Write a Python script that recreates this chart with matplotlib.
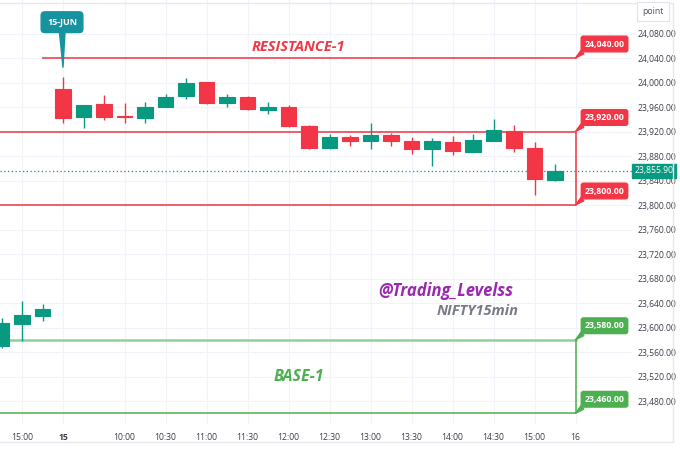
import numpy as np
import matplotlib
matplotlib.use("Agg")
import matplotlib.pyplot as plt
from matplotlib.patches import Rectangle

# 15-min NIFTY candles: last 3 bars of 14-Jun, then all of 15-Jun
times = ["14:45", "15:00", "15:15",
         "09:15", "09:30", "09:45", "10:00", "10:15", "10:30", "10:45",
         "11:00", "11:15", "11:30", "11:45", "12:00", "12:15", "12:30",
         "12:45", "13:00", "13:15", "13:30", "13:45", "14:00", "14:15",
         "14:30", "14:45", "15:00", "15:15"]
opens = [23570.3, 23605.7, 23618.8,
         23988.9, 23944.2, 23964.4, 23944.5, 23942.5, 23960.5, 23978.0,
         24000.3, 23966.0, 23976.8, 23955.1, 23960.5, 23929.5, 23892.6,
         23911.5, 23905.0, 23914.3, 23905.0, 23891.4, 23903.4, 23887.0,
         23905.0, 23921.3, 23892.6, 23840.8]
highs = [23616.0, 23643.8, 23638.4,
         24009.5, 23964.0, 23979.6, 23967.0, 23967.7, 23981.2, 24006.8,
         24001.0, 23981.2, 23978.0, 23968.7, 23963.0, 23931.0, 23916.0,
         23914.0, 23933.4, 23917.0, 23911.5, 23909.0, 23912.7, 23915.4,
         23940.4, 23930.6, 23902.4, 23867.0]
lows = [23567.0, 23578.4, 23611.0,
        23933.4, 23926.2, 23938.8, 23933.4, 23934.4, 23960.0, 23972.6,
        23965.0, 23960.5, 23955.0, 23948.6, 23928.0, 23891.0, 23891.5,
        23896.3, 23891.0, 23896.3, 23882.8, 23863.7, 23881.6, 23886.0,
        23904.0, 23887.0, 23816.3, 23839.5]
closes = [23606.8, 23620.4, 23629.7,
          23942.5, 23963.3, 23944.2, 23943.8, 23960.5, 23976.8, 23999.7,
          23966.0, 23976.8, 23956.2, 23960.5, 23929.0, 23892.6, 23910.5,
          23905.0, 23914.3, 23905.0, 23891.4, 23905.0, 23887.6, 23906.1,
          23922.4, 23893.6, 23842.0, 23855.9]
prev_day_bars = 3

resistance = [24040, 23920, 23800]
support = [23580, 23460]
last_price = 23855.90

tick_pos = [-2, 0, 3, 5, 7, 9, 11, 13, 15, 17, 19, 21, 23, 25]
tick_lbl = ["15:00", "15", "10:00", "10:30", "11:00", "11:30", "12:00",
            "12:30", "13:00", "13:30", "14:00", "14:30", "15:00", "16"]
price_ticks = np.arange(23480, 24081, 40)

UP = "#089981"
DN = "#F23645"
RED_LN = "#F0525F"
GRN = "#4CAF50"
TEAL = "#17939F"

plt.rcParams['font.family'] = ['Open Sans', 'DejaVu Sans']

fig = plt.figure(figsize=(6.8, 4.5), dpi=100)
W, H = 680, 450
ax = fig.add_axes([0, (H - 425) / H, 632 / W, 425 / H])

x = np.arange(len(times)) - prev_day_bars
o, h, l, c = map(np.array, (opens, highs, lows, closes))
col = np.where(c >= o, UP, DN)

ax.vlines(x, l, h, colors=col, lw=1, zorder=3)
ax.bar(x, np.abs(c - o), bottom=np.minimum(o, c), width=0.74,
       color=col, edgecolor=col, lw=0.8, zorder=4)

left = -3.5
right = 25
# resistance zone
ax.plot([-1, right], [resistance[0]] * 2, color=RED_LN, lw=1.3, zorder=2)
ax.plot([left, right, right, left], [resistance[1], resistance[1], resistance[2], resistance[2]],
        color=RED_LN, lw=1.3, zorder=2)
# base zone
ax.plot([left, right], [support[0]] * 2, color="#93CF96", lw=1.8, zorder=2)
ax.plot([right, right, left], [support[0], support[1], support[1]], color=GRN, lw=1.1, zorder=2)

ax.axhline(last_price, color=UP, lw=0.9, ls=(0, (1, 2)), zorder=2)

for lvl, clr in [(r, DN) for r in resistance] + [(s, GRN) for s in support]:
    ax.annotate(f"{lvl:,.2f}", xy=(right, lvl), xytext=(29, 14), textcoords="offset pixels",
                ha="center", va="center", color="white", fontsize=6.3, fontweight="bold",
                bbox=dict(boxstyle="round,pad=0.38,rounding_size=0.25", fc=clr, ec=clr),
                arrowprops=dict(arrowstyle="wedge,tail_width=0.5", fc=clr, ec=clr,
                                shrinkA=0, shrinkB=0, relpos=(0.08, 0.1)),
                zorder=6, annotation_clip=False)

ax.annotate("15-JUN", xy=(0, 24025), xytext=(-1, 45), textcoords="offset pixels",
            ha="center", va="center", color="white", fontsize=6.5, fontweight="bold",
            bbox=dict(boxstyle="round,pad=0.65,rounding_size=0.4", fc=TEAL, ec=TEAL),
            arrowprops=dict(arrowstyle="wedge,tail_width=0.6", fc=TEAL, ec=TEAL,
                            shrinkA=0, shrinkB=0), zorder=6)

ax.annotate("RESISTANCE-1", xy=(11.5, resistance[0]), xytext=(0, 11), textcoords="offset pixels",
            ha="center", va="center", color=DN, fontsize=10.5, fontweight="bold", fontstyle="italic")
ax.annotate("BASE-1", xy=(11.5, np.mean(support)), ha="center", va="center",
            color=GRN, fontsize=11.5, fontweight="bold", fontstyle="italic")
ax.text(0.812, 0.315, "@Trading_Levelss", transform=ax.transAxes, ha="right", va="center",
        color="#9C27B0", fontsize=12, fontweight="bold", fontstyle="italic")
ax.text(0.82, 0.268, "NIFTY15min", transform=ax.transAxes, ha="right", va="center",
        color="#787B86", fontsize=10.5, fontweight="bold", fontstyle="italic")

ax.annotate(f"{last_price:,.2f}", xy=(1, last_price), xycoords=("axes fraction", "data"),
            xytext=(22, 0), textcoords="offset pixels", ha="center", va="center",
            color="white", fontsize=6.2, bbox=dict(boxstyle="square,pad=0.3", fc=UP, ec=UP),
            zorder=7, annotation_clip=False)

ax.set_xlim(-63 / 20.5, 569 / 20.5)
ax.set_ylim(24040 - 367 / 0.6125, 24040 + 58 / 0.6125)
ax.set_xticks(tick_pos)
ax.set_xticklabels(tick_lbl)
ax.get_xticklabels()[1].set_fontweight("bold")
ax.set_yticks(price_ticks)
ax.yaxis.set_major_formatter(lambda v, p: f"{v:,.2f}")
ax.yaxis.tick_right()
ax.tick_params(axis="both", length=0, labelsize=6.2, labelcolor="#3a3e4a")
ax.tick_params(axis="x", pad=6)
ax.tick_params(axis="y", pad=4)
ax.grid(True, color="#F0F3FA", lw=0.8, zorder=0)
ax.set_axisbelow(True)
for s in ax.spines.values():
    s.set_visible(False)

fig.patches.append(Rectangle((-5, 8), 678, 439, transform=None, fill=False,
                             ec="#E6E8EE", lw=1))
fig.text(653 / W, 1 - 11.5 / H, "point", ha="center", va="center", fontsize=6.2, color="#50535E",
         bbox=dict(boxstyle="square,pad=0.6", fc="white", ec="#E0E3EB", lw=0.8))

fig.savefig("out.png", dpi=100)
